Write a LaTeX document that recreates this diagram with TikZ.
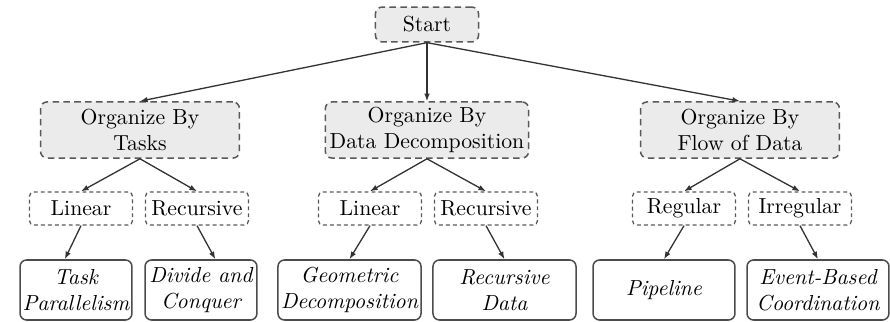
\documentclass[tikz,border=0pt]{standalone}
\usetikzlibrary{arrows.meta}
\tikzset{
  topbox/.style={draw=black!65, fill=black!8, rounded corners=3pt, dashed,
    dash pattern=on 3pt off 2pt, line width=0.7pt, align=center, inner sep=2pt},
  kindbox/.style={draw=black!65, rounded corners=2pt, dash pattern=on 1.8pt off 1.4pt,
    line width=0.6pt, minimum width=47.4pt, minimum height=15.2pt, inner sep=2pt},
  patbox/.style={draw=black!70, rounded corners=3pt, line width=0.7pt, align=center,
    minimum height=27.6pt, inner sep=1pt, font=\itshape},
}
\begin{document}
\begin{tikzpicture}[x=0.46pt,y=-0.46pt]
      \useasboundingbox (0,0) rectangle (890,322);
      \draw
        (427,24.5) node[topbox, minimum width=47.4pt, minimum height=16pt] (start){Start}
        (140,130) node[topbox, minimum width=91.5pt, minimum height=25.8pt] (tasks){Organize By\\Tasks}
        (427,130) node[topbox, minimum width=91.5pt, minimum height=25.8pt] (data){Organize By\\Data Decomposition}
        (740,130) node[topbox, minimum width=91.5pt, minimum height=25.8pt] (flow){Organize By\\Flow of Data}
        (81,208.5) node[kindbox] (lin1){Linear}
        (197,208.5) node[kindbox] (rec1){Recursive}
        (370,208.5) node[kindbox] (lin2){Linear}
        (486,208.5) node[kindbox] (rec2){Recursive}
        (684,208.5) node[kindbox] (reg){Regular}
        (800,208.5) node[kindbox] (irr){Irregular}
        (76,290) node[patbox, minimum width=51.5pt] (tp){Task\\Parallelism}
        (201,290) node[patbox, minimum width=51.5pt] (dc){Divide and\\Conquer}
        (349.5,290) node[patbox, minimum width=65.8pt] (geo){Geometric\\Decomposition}
        (504.5,290) node[patbox, minimum width=65.8pt] (rd){Recursive\\Data}
        (664,290) node[patbox, minimum width=65.3pt] (pipe){Pipeline}
        (818,290) node[patbox, minimum width=65.3pt] (ebc){Event-Based\\Coordination};
      \begin{scope}[-{Latex[length=3.5pt,width=2.6pt]}, draw=black!80, line width=0.6pt]
        \draw (start.south) to (tasks.north);
        \draw (start.south) to (data.north);
        \draw (start.south) to (flow.north);
        \draw (tasks.south) to (lin1.north);
        \draw (tasks.south) to (rec1.north);
        \draw (data.south) to (lin2.north);
        \draw (data.south) to (rec2.north);
        \draw (flow.south) to (reg.north);
        \draw (flow.south) to (irr.north);
        \draw (lin1.south) to (tp.110);
        \draw (rec1.south) to (dc.65);
        \draw (lin2.south) to (geo.north);
        \draw (rec2.south) to (rd.north);
        \draw (reg.south) to (pipe.north);
        \draw (irr.south) to (ebc.north);
      \end{scope}
    \end{tikzpicture}
\end{document}
